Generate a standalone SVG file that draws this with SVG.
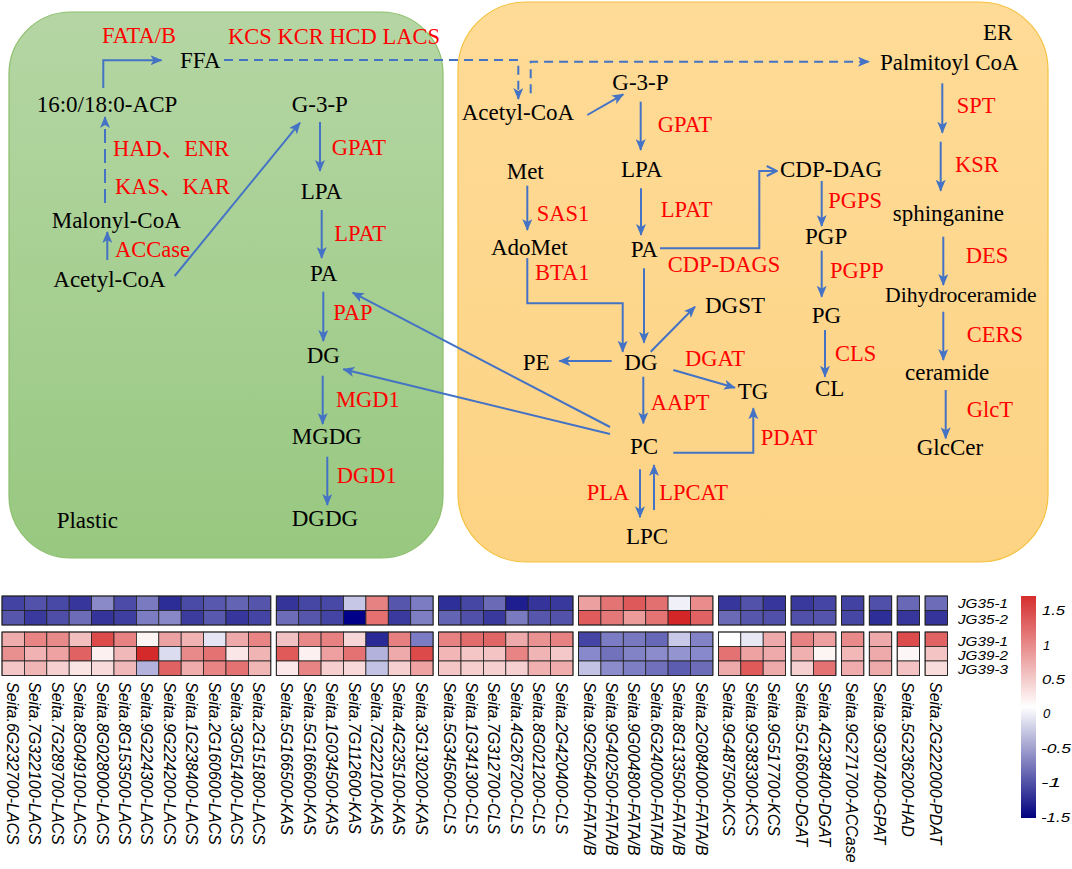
<svg xmlns="http://www.w3.org/2000/svg" width="1072" height="869" viewBox="0 0 1072 869">
<defs>
<linearGradient id="gG" x1="0" y1="0" x2="0" y2="1"><stop offset="0" stop-color="#b5d6a4"/><stop offset="1" stop-color="#98c880"/></linearGradient>
<linearGradient id="gO" x1="0" y1="0" x2="0" y2="1"><stop offset="0" stop-color="#fedb97"/><stop offset="1" stop-color="#fdd384"/></linearGradient>
<linearGradient id="gL" x1="0" y1="0" x2="0" y2="1"><stop offset="0" stop-color="#d52e2e"/><stop offset="0.5" stop-color="#ffffff"/><stop offset="1" stop-color="#00007e"/></linearGradient>
<marker id="ah" viewBox="0 0 12 10" refX="11" refY="5" markerWidth="12" markerHeight="10" markerUnits="userSpaceOnUse" orient="auto"><path d="M0,0 L12,5 L0,10 L3,5 z" fill="#4472c4"/></marker>
<marker id="ao" viewBox="0 0 12 12" refX="11" refY="6" markerWidth="12" markerHeight="12" markerUnits="userSpaceOnUse" orient="auto"><path d="M1,1 L11,6 L1,11" fill="none" stroke="#4472c4" stroke-width="2"/></marker>
</defs>
<style>
.n{font-family:'Liberation Serif','Tinos','Times New Roman','Nimbus Roman','DejaVu Serif',serif;font-size:23px;fill:#000}
.e{font-family:'Liberation Serif','Tinos','Times New Roman','Nimbus Roman','DejaVu Serif','Noto Sans CJK SC',serif;font-size:22.5px;fill:#ff0000}
.c path{fill:none;stroke:#4472c4;stroke-width:2}
.c .a{marker-end:url(#ah)}
.c .d{stroke-dasharray:9 6}
.hm rect{stroke:#222;stroke-width:0.8}
.hb{fill:none;stroke:#444;stroke-width:1.6}
.gl{font-family:'Liberation Sans',Arial,sans-serif;font-style:italic;font-size:16px;fill:#000}
.rl{font-family:'Liberation Sans',Arial,sans-serif;font-style:italic;font-size:13px;fill:#000}
</style>
<rect width="1072" height="869" fill="#fff"/>
<g id="plastid">
<rect x="9" y="12" width="434" height="546" rx="62" ry="62" fill="url(#gG)" stroke="#8cbf6c" stroke-width="1.2"/>
<text class="n" x="56.7" y="528.3">Plastic</text>
</g>
<g id="er">
<rect x="458" y="2" width="590" height="560" rx="68" ry="68" fill="url(#gO)" stroke="#f5c240" stroke-width="1.2"/>
<text class="n" x="983" y="40">ER</text>
</g>
<g id="n-fatab"><text class="e" x="102" y="43">FATA/B</text></g>
<g id="n-kcs"><text class="e" x="228" y="44">KCS KCR HCD LACS</text></g>
<g id="n-ffa"><text class="n" x="180" y="68.3">FFA</text></g>
<g id="n-acp"><text class="n" x="36.7" y="111.7">16:0/18:0-ACP</text></g>
<g id="n-g3p1"><text class="n" x="291.7" y="111.7">G-3-P</text></g>
<g id="n-haden"><text class="e" x="113" y="155.7">HAD、ENR</text></g>
<g id="n-gpat1"><text class="e" x="331.7" y="155">GPAT</text></g>
<g id="n-kaskar"><text class="e" x="115" y="194.3">KAS、KAR</text></g>
<g id="n-lpa1"><text class="n" x="300.7" y="199">LPA</text></g>
<g id="n-malonyl"><text class="n" x="51.7" y="227.7">Malonyl-CoA</text></g>
<g id="n-lpat1"><text class="e" x="334.3" y="240.7">LPAT</text></g>
<g id="n-accase"><text class="e" x="115" y="257.3">ACCase</text></g>
<g id="n-acetyl1"><text class="n" x="53.3" y="286.7">Acetyl-CoA</text></g>
<g id="n-pa1"><text class="n" x="310" y="281">PA</text></g>
<g id="n-pap"><text class="e" x="333.3" y="320">PAP</text></g>
<g id="n-dg1"><text class="n" x="306.7" y="363.3">DG</text></g>
<g id="n-mgd1"><text class="e" x="336" y="406.7">MGD1</text></g>
<g id="n-mgdg"><text class="n" x="291.7" y="444">MGDG</text></g>
<g id="n-dgd1"><text class="e" x="336.7" y="483.3">DGD1</text></g>
<g id="n-dgdg"><text class="n" x="291.7" y="526">DGDG</text></g>
<g id="n-acetyl2"><text class="n" x="461.7" y="120">Acetyl-CoA</text></g>
<g id="n-g3p2"><text class="n" x="612.3" y="90">G-3-P</text></g>
<g id="n-gpat2"><text class="e" x="657.7" y="131.7">GPAT</text></g>
<g id="n-met"><text class="n" x="506.7" y="179">Met</text></g>
<g id="n-lpa2"><text class="n" x="621" y="176.7">LPA</text></g>
<g id="n-cdpdag"><text class="n" x="780" y="176.7">CDP-DAG</text></g>
<g id="n-sas1"><text class="e" x="536.7" y="220.7">SAS1</text></g>
<g id="n-lpat2"><text class="e" x="660.7" y="216.7">LPAT</text></g>
<g id="n-adomet"><text class="n" x="491" y="255">AdoMet</text></g>
<g id="n-pa2"><text class="n" x="630.7" y="256.7">PA</text></g>
<g id="n-cdpdags"><text class="e" x="667.7" y="271.7">CDP-DAGS</text></g>
<g id="n-bta1"><text class="e" x="535" y="280">BTA1</text></g>
<g id="n-dgst"><text class="n" x="705" y="313.3">DGST</text></g>
<g id="n-pe"><text class="n" x="522.7" y="370">PE</text></g>
<g id="n-dg2"><text class="n" x="624.3" y="370">DG</text></g>
<g id="n-dgat"><text class="e" x="685" y="366">DGAT</text></g>
<g id="n-tg"><text class="n" x="737.7" y="399.3">TG</text></g>
<g id="n-aapt"><text class="e" x="650.7" y="410">AAPT</text></g>
<g id="n-pc"><text class="n" x="630" y="454">PC</text></g>
<g id="n-pdat"><text class="e" x="760.7" y="445">PDAT</text></g>
<g id="n-pla"><text class="e" x="586.7" y="500">PLA</text></g>
<g id="n-lpcat"><text class="e" x="659.3" y="500">LPCAT</text></g>
<g id="n-lpc"><text class="n" x="626" y="544">LPC</text></g>
<g id="n-pgps"><text class="e" x="828.3" y="208.3">PGPS</text></g>
<g id="n-pgp"><text class="n" x="805" y="244">PGP</text></g>
<g id="n-pgpp"><text class="e" x="830" y="277.7">PGPP</text></g>
<g id="n-pg"><text class="n" x="811.7" y="323">PG</text></g>
<g id="n-cls"><text class="e" x="835" y="361">CLS</text></g>
<g id="n-cl"><text class="n" x="815" y="396">CL</text></g>
<g id="n-palm"><text class="n" x="880" y="70">Palmitoyl CoA</text></g>
<g id="n-spt"><text class="e" x="956.7" y="113.3">SPT</text></g>
<g id="n-ksr"><text class="e" x="955" y="171.7">KSR</text></g>
<g id="n-sphing"><text class="n" x="892.7" y="220.7">sphinganine</text></g>
<g id="n-des"><text class="e" x="965.7" y="263.3">DES</text></g>
<g id="n-dihydro"><text class="n" x="885" y="301.7" style="font-size:21.7px">Dihydroceramide</text></g>
<g id="n-cers"><text class="e" x="966.7" y="342.3">CERS</text></g>
<g id="n-ceramide"><text class="n" x="905" y="380">ceramide</text></g>
<g id="n-glct"><text class="e" x="966.7" y="416.7">GlcT</text></g>
<g id="n-glccer"><text class="n" x="916.7" y="455">GlcCer</text></g>
<g id="connectors" class="c">
<path class="a" d="M103.3,88 V60.3 H161.5"/>
<path class="a" d="M105,203 V117" style="stroke-dasharray:14 6"/>
<path class="a" d="M107.3,260 V232"/>
<path class="a" d="M174.7,276 L300,122.7"/>
<path class="a" d="M320,122 V171"/>
<path class="a" d="M321.7,210 V258"/>
<path class="a" d="M323.3,291.7 V341"/>
<path class="a" d="M322.7,375.7 V424"/>
<path class="a" d="M327.3,456.7 V505"/>
<path class="a" d="M610,427 L352.7,292.7"/>
<path class="a" d="M610,434 L343.3,369.3"/>
<path class="a d" d="M224,60 H518.3 V99"/>
<path class="a d" d="M530.7,93.3 V61.7 H869"/>
<path class="a" d="M587.3,115 L623.3,94.3"/>
<path class="a" d="M640.7,101.7 V150"/>
<path class="a" d="M527.3,185.7 V230"/>
<path class="a" d="M641,188.3 V235"/>
<path d="M660,248.3 H759.3 V171 H776.7" style="marker-end:url(#ao)"/>
<path class="a" d="M527.3,258 V303.3 H622.7 V351.7"/>
<path class="a" d="M644,268.3 V342.7"/>
<path class="a" d="M611.7,361 H559.3"/>
<path class="a" d="M650.7,351.7 L695,306.7"/>
<path class="a" d="M673.3,370 L735,387.7"/>
<path class="a" d="M643.3,376.7 V423.3"/>
<path class="a" d="M673.3,452.7 H753.3 V408.3"/>
<path class="a" d="M640,469.3 V517.3"/>
<path class="a" d="M654,510 V465"/>
<path class="a" d="M821.7,181 V226"/>
<path class="a" d="M821.7,250.7 V296.7"/>
<path class="a" d="M825,330 V376.7"/>
<path class="a" d="M942.3,83.3 V132.7"/>
<path class="a" d="M940.7,141.7 V190.7"/>
<path class="a" d="M943.3,236.7 V285"/>
<path class="a" d="M943.3,311.7 V360"/>
<path class="a" d="M945.7,390 V438.3"/>
</g>
<g id="heatmap" class="hm">
<g id="row-jg35-1">
<rect x="2" y="596" width="22.4" height="14.5" fill="#4343a3"/><rect x="24.4" y="596" width="22.4" height="14.5" fill="#5252ab"/><rect x="46.8" y="596" width="22.4" height="14.5" fill="#4848a6"/><rect x="69.2" y="596" width="22.4" height="14.5" fill="#36369c"/><rect x="91.6" y="596" width="22.4" height="14.5" fill="#8a8ac9"/><rect x="114" y="596" width="22.4" height="14.5" fill="#4c4ca8"/><rect x="136.4" y="596" width="22.4" height="14.5" fill="#7a7ac1"/><rect x="158.8" y="596" width="22.4" height="14.5" fill="#2d2d98"/><rect x="181.2" y="596" width="22.4" height="14.5" fill="#4a4aa7"/><rect x="203.6" y="596" width="22.4" height="14.5" fill="#5858ae"/><rect x="226" y="596" width="22.4" height="14.5" fill="#6464b4"/><rect x="248.4" y="596" width="22.4" height="14.5" fill="#5555ac"/>
<rect x="276.3" y="596" width="22.4" height="14.5" fill="#34349b"/><rect x="298.7" y="596" width="22.4" height="14.5" fill="#4646a5"/><rect x="321.1" y="596" width="22.4" height="14.5" fill="#4848a6"/><rect x="343.5" y="596" width="22.4" height="14.5" fill="#c6c6e6"/><rect x="365.9" y="596" width="22.4" height="14.5" fill="#e68282"/><rect x="388.3" y="596" width="22.4" height="14.5" fill="#5656ad"/><rect x="410.7" y="596" width="22.4" height="14.5" fill="#7c7cc2"/>
<rect x="438.6" y="596" width="22.4" height="14.5" fill="#2f2f99"/><rect x="461" y="596" width="22.4" height="14.5" fill="#4646a5"/><rect x="483.4" y="596" width="22.4" height="14.5" fill="#6a6ab7"/><rect x="505.8" y="596" width="22.4" height="14.5" fill="#1e1e91"/><rect x="528.2" y="596" width="22.4" height="14.5" fill="#34349b"/><rect x="550.6" y="596" width="22.4" height="14.5" fill="#38389d"/>
<rect x="578.5" y="596" width="22.4" height="14.5" fill="#eca0a0"/><rect x="600.9" y="596" width="22.4" height="14.5" fill="#e47474"/><rect x="623.3" y="596" width="22.4" height="14.5" fill="#de5a5a"/><rect x="645.7" y="596" width="22.4" height="14.5" fill="#e27070"/><rect x="668.1" y="596" width="22.4" height="14.5" fill="#f0f0f8"/><rect x="690.5" y="596" width="22.4" height="14.5" fill="#ea8c8c"/>
<rect x="718.4" y="596" width="22.4" height="14.5" fill="#36369c"/><rect x="740.8" y="596" width="22.4" height="14.5" fill="#5252ab"/><rect x="763.2" y="596" width="22.4" height="14.5" fill="#36369c"/>
<rect x="791.1" y="596" width="22.4" height="14.5" fill="#38389d"/><rect x="813.5" y="596" width="22.4" height="14.5" fill="#4545a5"/>
<rect x="841.4" y="596" width="22.4" height="14.5" fill="#4242a3"/><rect x="869.3" y="596" width="22.4" height="14.5" fill="#5050aa"/><rect x="897.2" y="596" width="22.4" height="14.5" fill="#6868b6"/><rect x="925.1" y="596" width="22.4" height="14.5" fill="#6c6cb8"/>
</g>
<g id="row-jg35-2">
<rect x="2" y="610.5" width="22.4" height="14.5" fill="#5656ad"/><rect x="24.4" y="610.5" width="22.4" height="14.5" fill="#3a3a9e"/><rect x="46.8" y="610.5" width="22.4" height="14.5" fill="#4e4ea9"/><rect x="69.2" y="610.5" width="22.4" height="14.5" fill="#6c6cb8"/><rect x="91.6" y="610.5" width="22.4" height="14.5" fill="#34349b"/><rect x="114" y="610.5" width="22.4" height="14.5" fill="#3e3ea0"/><rect x="136.4" y="610.5" width="22.4" height="14.5" fill="#7c7cc2"/><rect x="158.8" y="610.5" width="22.4" height="14.5" fill="#8888c8"/><rect x="181.2" y="610.5" width="22.4" height="14.5" fill="#3c3c9f"/><rect x="203.6" y="610.5" width="22.4" height="14.5" fill="#5858ae"/><rect x="226" y="610.5" width="22.4" height="14.5" fill="#36369c"/><rect x="248.4" y="610.5" width="22.4" height="14.5" fill="#4444a4"/>
<rect x="276.3" y="610.5" width="22.4" height="14.5" fill="#6c6cb8"/><rect x="298.7" y="610.5" width="22.4" height="14.5" fill="#5656ad"/><rect x="321.1" y="610.5" width="22.4" height="14.5" fill="#4444a4"/><rect x="343.5" y="610.5" width="22.4" height="14.5" fill="#000088"/><rect x="365.9" y="610.5" width="22.4" height="14.5" fill="#e67070"/><rect x="388.3" y="610.5" width="22.4" height="14.5" fill="#3a3a9e"/><rect x="410.7" y="610.5" width="22.4" height="14.5" fill="#7e7ec3"/>
<rect x="438.6" y="610.5" width="22.4" height="14.5" fill="#6464b4"/><rect x="461" y="610.5" width="22.4" height="14.5" fill="#5050aa"/><rect x="483.4" y="610.5" width="22.4" height="14.5" fill="#38389d"/><rect x="505.8" y="610.5" width="22.4" height="14.5" fill="#7a7ac1"/><rect x="528.2" y="610.5" width="22.4" height="14.5" fill="#5656ad"/><rect x="550.6" y="610.5" width="22.4" height="14.5" fill="#5252ab"/>
<rect x="578.5" y="610.5" width="22.4" height="14.5" fill="#e05c5c"/><rect x="600.9" y="610.5" width="22.4" height="14.5" fill="#e47878"/><rect x="623.3" y="610.5" width="22.4" height="14.5" fill="#ec9a9a"/><rect x="645.7" y="610.5" width="22.4" height="14.5" fill="#e47474"/><rect x="668.1" y="610.5" width="22.4" height="14.5" fill="#d42626"/><rect x="690.5" y="610.5" width="22.4" height="14.5" fill="#e06262"/>
<rect x="718.4" y="610.5" width="22.4" height="14.5" fill="#6a6ab7"/><rect x="740.8" y="610.5" width="22.4" height="14.5" fill="#5656ad"/><rect x="763.2" y="610.5" width="22.4" height="14.5" fill="#5050aa"/>
<rect x="791.1" y="610.5" width="22.4" height="14.5" fill="#5050aa"/><rect x="813.5" y="610.5" width="22.4" height="14.5" fill="#5454ac"/>
<rect x="841.4" y="610.5" width="22.4" height="14.5" fill="#4646a5"/><rect x="869.3" y="610.5" width="22.4" height="14.5" fill="#2e2e99"/><rect x="897.2" y="610.5" width="22.4" height="14.5" fill="#36369c"/><rect x="925.1" y="610.5" width="22.4" height="14.5" fill="#34349b"/>
</g>
<g id="row-jg39-1">
<rect x="2" y="632" width="22.4" height="14.5" fill="#eeacac"/><rect x="24.4" y="632" width="22.4" height="14.5" fill="#e88484"/><rect x="46.8" y="632" width="22.4" height="14.5" fill="#e88a8a"/><rect x="69.2" y="632" width="22.4" height="14.5" fill="#f2bebe"/><rect x="91.6" y="632" width="22.4" height="14.5" fill="#dc4a4a"/><rect x="114" y="632" width="22.4" height="14.5" fill="#e88282"/><rect x="136.4" y="632" width="22.4" height="14.5" fill="#fdf4f4"/><rect x="158.8" y="632" width="22.4" height="14.5" fill="#eca2a2"/><rect x="181.2" y="632" width="22.4" height="14.5" fill="#f0b2b2"/><rect x="203.6" y="632" width="22.4" height="14.5" fill="#e4e4f4"/><rect x="226" y="632" width="22.4" height="14.5" fill="#eeaaaa"/><rect x="248.4" y="632" width="22.4" height="14.5" fill="#e88484"/>
<rect x="276.3" y="632" width="22.4" height="14.5" fill="#f2c2c2"/><rect x="298.7" y="632" width="22.4" height="14.5" fill="#e88888"/><rect x="321.1" y="632" width="22.4" height="14.5" fill="#e88282"/><rect x="343.5" y="632" width="22.4" height="14.5" fill="#f6d6d6"/><rect x="365.9" y="632" width="22.4" height="14.5" fill="#2a2a97"/><rect x="388.3" y="632" width="22.4" height="14.5" fill="#e68080"/><rect x="410.7" y="632" width="22.4" height="14.5" fill="#7c7cc4"/>
<rect x="438.6" y="632" width="22.4" height="14.5" fill="#e68282"/><rect x="461" y="632" width="22.4" height="14.5" fill="#e26c6c"/><rect x="483.4" y="632" width="22.4" height="14.5" fill="#e06666"/><rect x="505.8" y="632" width="22.4" height="14.5" fill="#eeaaaa"/><rect x="528.2" y="632" width="22.4" height="14.5" fill="#ea9292"/><rect x="550.6" y="632" width="22.4" height="14.5" fill="#e88282"/>
<rect x="578.5" y="632" width="22.4" height="14.5" fill="#4444a4"/><rect x="600.9" y="632" width="22.4" height="14.5" fill="#7c7cc4"/><rect x="623.3" y="632" width="22.4" height="14.5" fill="#7878c1"/><rect x="645.7" y="632" width="22.4" height="14.5" fill="#6868b8"/><rect x="668.1" y="632" width="22.4" height="14.5" fill="#c8c8e8"/><rect x="690.5" y="632" width="22.4" height="14.5" fill="#8282c6"/>
<rect x="718.4" y="632" width="22.4" height="14.5" fill="#fefefe"/><rect x="740.8" y="632" width="22.4" height="14.5" fill="#e8e8f4"/><rect x="763.2" y="632" width="22.4" height="14.5" fill="#eeaaaa"/>
<rect x="791.1" y="632" width="22.4" height="14.5" fill="#e68282"/><rect x="813.5" y="632" width="22.4" height="14.5" fill="#eea0a0"/>
<rect x="841.4" y="632" width="22.4" height="14.5" fill="#e88a8a"/><rect x="869.3" y="632" width="22.4" height="14.5" fill="#eeaaaa"/><rect x="897.2" y="632" width="22.4" height="14.5" fill="#dc4c4c"/><rect x="925.1" y="632" width="22.4" height="14.5" fill="#e06262"/>
</g>
<g id="row-jg39-2">
<rect x="2" y="646.5" width="22.4" height="14.5" fill="#e89090"/><rect x="24.4" y="646.5" width="22.4" height="14.5" fill="#f0b2b2"/><rect x="46.8" y="646.5" width="22.4" height="14.5" fill="#eea2a2"/><rect x="69.2" y="646.5" width="22.4" height="14.5" fill="#e06262"/><rect x="91.6" y="646.5" width="22.4" height="14.5" fill="#fdf0f0"/><rect x="114" y="646.5" width="22.4" height="14.5" fill="#f0b8b8"/><rect x="136.4" y="646.5" width="22.4" height="14.5" fill="#d42a2a"/><rect x="158.8" y="646.5" width="22.4" height="14.5" fill="#dcdcf0"/><rect x="181.2" y="646.5" width="22.4" height="14.5" fill="#e88a8a"/><rect x="203.6" y="646.5" width="22.4" height="14.5" fill="#e47272"/><rect x="226" y="646.5" width="22.4" height="14.5" fill="#fae6e6"/><rect x="248.4" y="646.5" width="22.4" height="14.5" fill="#f0b4b4"/>
<rect x="276.3" y="646.5" width="22.4" height="14.5" fill="#e05a5a"/><rect x="298.7" y="646.5" width="22.4" height="14.5" fill="#fdf0f0"/><rect x="321.1" y="646.5" width="22.4" height="14.5" fill="#eea0a0"/><rect x="343.5" y="646.5" width="22.4" height="14.5" fill="#e47272"/><rect x="365.9" y="646.5" width="22.4" height="14.5" fill="#b2b2dc"/><rect x="388.3" y="646.5" width="22.4" height="14.5" fill="#eeaaaa"/><rect x="410.7" y="646.5" width="22.4" height="14.5" fill="#dc4a4a"/>
<rect x="438.6" y="646.5" width="22.4" height="14.5" fill="#f2b6b6"/><rect x="461" y="646.5" width="22.4" height="14.5" fill="#f4c6c6"/><rect x="483.4" y="646.5" width="22.4" height="14.5" fill="#f4c4c4"/><rect x="505.8" y="646.5" width="22.4" height="14.5" fill="#e88484"/><rect x="528.2" y="646.5" width="22.4" height="14.5" fill="#f0b4b4"/><rect x="550.6" y="646.5" width="22.4" height="14.5" fill="#f4c8c8"/>
<rect x="578.5" y="646.5" width="22.4" height="14.5" fill="#8888cc"/><rect x="600.9" y="646.5" width="22.4" height="14.5" fill="#7272bc"/><rect x="623.3" y="646.5" width="22.4" height="14.5" fill="#8282c6"/><rect x="645.7" y="646.5" width="22.4" height="14.5" fill="#8c8ccc"/><rect x="668.1" y="646.5" width="22.4" height="14.5" fill="#9494d0"/><rect x="690.5" y="646.5" width="22.4" height="14.5" fill="#8888cc"/>
<rect x="718.4" y="646.5" width="22.4" height="14.5" fill="#e47272"/><rect x="740.8" y="646.5" width="22.4" height="14.5" fill="#eea2a2"/><rect x="763.2" y="646.5" width="22.4" height="14.5" fill="#eeaaaa"/>
<rect x="791.1" y="646.5" width="22.4" height="14.5" fill="#f0b0b0"/><rect x="813.5" y="646.5" width="22.4" height="14.5" fill="#fdf4f4"/>
<rect x="841.4" y="646.5" width="22.4" height="14.5" fill="#f2b8b8"/><rect x="869.3" y="646.5" width="22.4" height="14.5" fill="#eeaaaa"/><rect x="897.2" y="646.5" width="22.4" height="14.5" fill="#fdf6f6"/><rect x="925.1" y="646.5" width="22.4" height="14.5" fill="#f4c4c4"/>
</g>
<g id="row-jg39-3">
<rect x="2" y="661" width="22.4" height="14.5" fill="#f4c6c6"/><rect x="24.4" y="661" width="22.4" height="14.5" fill="#f0b6b6"/><rect x="46.8" y="661" width="22.4" height="14.5" fill="#f6d0d0"/><rect x="69.2" y="661" width="22.4" height="14.5" fill="#fbe4e4"/><rect x="91.6" y="661" width="22.4" height="14.5" fill="#f8dada"/><rect x="114" y="661" width="22.4" height="14.5" fill="#f0b8b8"/><rect x="136.4" y="661" width="22.4" height="14.5" fill="#b2b2dc"/><rect x="158.8" y="661" width="22.4" height="14.5" fill="#e06262"/><rect x="181.2" y="661" width="22.4" height="14.5" fill="#f0acac"/><rect x="203.6" y="661" width="22.4" height="14.5" fill="#e88484"/><rect x="226" y="661" width="22.4" height="14.5" fill="#e47272"/><rect x="248.4" y="661" width="22.4" height="14.5" fill="#f0b6b6"/>
<rect x="276.3" y="661" width="22.4" height="14.5" fill="#fce8e8"/><rect x="298.7" y="661" width="22.4" height="14.5" fill="#e88484"/><rect x="321.1" y="661" width="22.4" height="14.5" fill="#f6cece"/><rect x="343.5" y="661" width="22.4" height="14.5" fill="#f8d8d8"/><rect x="365.9" y="661" width="22.4" height="14.5" fill="#c2c2e4"/><rect x="388.3" y="661" width="22.4" height="14.5" fill="#f6d0d0"/><rect x="410.7" y="661" width="22.4" height="14.5" fill="#eea2a2"/>
<rect x="438.6" y="661" width="22.4" height="14.5" fill="#f4c6c6"/><rect x="461" y="661" width="22.4" height="14.5" fill="#f6cece"/><rect x="483.4" y="661" width="22.4" height="14.5" fill="#f6d0d0"/><rect x="505.8" y="661" width="22.4" height="14.5" fill="#f6d0d0"/><rect x="528.2" y="661" width="22.4" height="14.5" fill="#f0b0b0"/><rect x="550.6" y="661" width="22.4" height="14.5" fill="#f0acac"/>
<rect x="578.5" y="661" width="22.4" height="14.5" fill="#c2c2e4"/><rect x="600.9" y="661" width="22.4" height="14.5" fill="#8c8ccc"/><rect x="623.3" y="661" width="22.4" height="14.5" fill="#7e7ec4"/><rect x="645.7" y="661" width="22.4" height="14.5" fill="#7070bc"/><rect x="668.1" y="661" width="22.4" height="14.5" fill="#5c5cb0"/><rect x="690.5" y="661" width="22.4" height="14.5" fill="#6c6cb8"/>
<rect x="718.4" y="661" width="22.4" height="14.5" fill="#eeaaaa"/><rect x="740.8" y="661" width="22.4" height="14.5" fill="#e05a5a"/><rect x="763.2" y="661" width="22.4" height="14.5" fill="#eeaaaa"/>
<rect x="791.1" y="661" width="22.4" height="14.5" fill="#f6d0d0"/><rect x="813.5" y="661" width="22.4" height="14.5" fill="#e47272"/>
<rect x="841.4" y="661" width="22.4" height="14.5" fill="#f0acac"/><rect x="869.3" y="661" width="22.4" height="14.5" fill="#eeaaaa"/><rect x="897.2" y="661" width="22.4" height="14.5" fill="#f4c2c2"/><rect x="925.1" y="661" width="22.4" height="14.5" fill="#f8dcdc"/>
</g>
<g id="block-borders">
<rect class="hb" x="2" y="596" width="268.8" height="29"/><rect class="hb" x="276.3" y="596" width="156.8" height="29"/><rect class="hb" x="438.6" y="596" width="134.4" height="29"/><rect class="hb" x="578.5" y="596" width="134.4" height="29"/><rect class="hb" x="718.4" y="596" width="67.2" height="29"/><rect class="hb" x="791.1" y="596" width="44.8" height="29"/><rect class="hb" x="841.4" y="596" width="22.4" height="29"/><rect class="hb" x="869.3" y="596" width="22.4" height="29"/><rect class="hb" x="897.2" y="596" width="22.4" height="29"/><rect class="hb" x="925.1" y="596" width="22.4" height="29"/>
<rect class="hb" x="2" y="632" width="268.8" height="43.5"/><rect class="hb" x="276.3" y="632" width="156.8" height="43.5"/><rect class="hb" x="438.6" y="632" width="134.4" height="43.5"/><rect class="hb" x="578.5" y="632" width="134.4" height="43.5"/><rect class="hb" x="718.4" y="632" width="67.2" height="43.5"/><rect class="hb" x="791.1" y="632" width="44.8" height="43.5"/><rect class="hb" x="841.4" y="632" width="22.4" height="43.5"/><rect class="hb" x="869.3" y="632" width="22.4" height="43.5"/><rect class="hb" x="897.2" y="632" width="22.4" height="43.5"/><rect class="hb" x="925.1" y="632" width="22.4" height="43.5"/>
</g>
</g>
<g id="gene-labels">
<text class="gl" transform="translate(7,682) rotate(90)">Seita.6G232700-LACS</text>
<text class="gl" transform="translate(29.4,682) rotate(90)">Seita.7G322100-LACS</text>
<text class="gl" transform="translate(51.8,682) rotate(90)">Seita.7G289700-LACS</text>
<text class="gl" transform="translate(74.2,682) rotate(90)">Seita.8G049100-LACS</text>
<text class="gl" transform="translate(96.6,682) rotate(90)">Seita.8G028000-LACS</text>
<text class="gl" transform="translate(119,682) rotate(90)">Seita.8G153500-LACS</text>
<text class="gl" transform="translate(141.4,682) rotate(90)">Seita.9G224300-LACS</text>
<text class="gl" transform="translate(163.8,682) rotate(90)">Seita.9G224200-LACS</text>
<text class="gl" transform="translate(186.2,682) rotate(90)">Seita.1G238400-LACS</text>
<text class="gl" transform="translate(208.6,682) rotate(90)">Seita.2G160600-LACS</text>
<text class="gl" transform="translate(231,682) rotate(90)">Seita.3G051400-LACS</text>
<text class="gl" transform="translate(253.4,682) rotate(90)">Seita.2G151800-LACS</text>
<text class="gl" transform="translate(281.3,682) rotate(90)">Seita.5G166500-KAS</text>
<text class="gl" transform="translate(303.7,682) rotate(90)">Seita.5G166600-KAS</text>
<text class="gl" transform="translate(326.1,682) rotate(90)">Seita.1G034500-KAS</text>
<text class="gl" transform="translate(348.5,682) rotate(90)">Seita.7G112600-KAS</text>
<text class="gl" transform="translate(370.9,682) rotate(90)">Seita.7G222100-KAS</text>
<text class="gl" transform="translate(393.3,682) rotate(90)">Seita.4G235100-KAS</text>
<text class="gl" transform="translate(415.7,682) rotate(90)">Seita.3G130200-KAS</text>
<text class="gl" transform="translate(443.6,682) rotate(90)">Seita.5G345600-CLS</text>
<text class="gl" transform="translate(466,682) rotate(90)">Seita.1G341300-CLS</text>
<text class="gl" transform="translate(488.4,682) rotate(90)">Seita.7G312700-CLS</text>
<text class="gl" transform="translate(510.8,682) rotate(90)">Seita.4G267200-CLS</text>
<text class="gl" transform="translate(533.2,682) rotate(90)">Seita.8G021200-CLS</text>
<text class="gl" transform="translate(555.6,682) rotate(90)">Seita.2G420400-CLS</text>
<text class="gl" transform="translate(583.5,682) rotate(90)">Seita.9G205400-FATA/B</text>
<text class="gl" transform="translate(605.9,682) rotate(90)">Seita.9G402500-FATA/B</text>
<text class="gl" transform="translate(628.3,682) rotate(90)">Seita.9G004800-FATA/B</text>
<text class="gl" transform="translate(650.7,682) rotate(90)">Seita.6G240000-FATA/B</text>
<text class="gl" transform="translate(673.1,682) rotate(90)">Seita.8G133500-FATA/B</text>
<text class="gl" transform="translate(695.5,682) rotate(90)">Seita.2G084000-FATA/B</text>
<text class="gl" transform="translate(723.4,682) rotate(90)">Seita.9G487500-KCS</text>
<text class="gl" transform="translate(745.8,682) rotate(90)">Seita.9G383300-KCS</text>
<text class="gl" transform="translate(768.2,682) rotate(90)">Seita.9G517700-KCS</text>
<text class="gl" transform="translate(796.1,682) rotate(90)">Seita.5G166000-DGAT</text>
<text class="gl" transform="translate(818.5,682) rotate(90)">Seita.4G238400-DGAT</text>
<text class="gl" transform="translate(846.4,682) rotate(90)">Seita.9G271700-ACCase</text>
<text class="gl" transform="translate(874.3,682) rotate(90)">Seita.9G307400-GPAT</text>
<text class="gl" transform="translate(902.2,682) rotate(90)">Seita.5G236200-HAD</text>
<text class="gl" transform="translate(930.1,682) rotate(90)">Seita.2G222000-PDAT</text>
</g>
<g id="row-labels">
<text class="rl" x="958" y="607.7" textLength="50" lengthAdjust="spacingAndGlyphs">JG35-1</text>
<text class="rl" x="958" y="623.5" textLength="50" lengthAdjust="spacingAndGlyphs">JG35-2</text>
<text class="rl" x="958" y="645.5" textLength="50" lengthAdjust="spacingAndGlyphs">JG39-1</text>
<text class="rl" x="958" y="660" textLength="50" lengthAdjust="spacingAndGlyphs">JG39-2</text>
<text class="rl" x="958" y="674.3" textLength="50" lengthAdjust="spacingAndGlyphs">JG39-3</text>
</g>
<g id="legend">
<rect x="1021" y="596" width="15" height="222" fill="url(#gL)"/>
<text class="rl" x="1042" y="615" textLength="23" lengthAdjust="spacingAndGlyphs">1.5</text>
<text class="rl" x="1043" y="650">1</text>
<text class="rl" x="1042" y="684" textLength="23" lengthAdjust="spacingAndGlyphs">0.5</text>
<text class="rl" x="1043" y="718">0</text>
<text class="rl" x="1041" y="753" textLength="30" lengthAdjust="spacingAndGlyphs">-0.5</text>
<text class="rl" x="1041" y="787" textLength="20" lengthAdjust="spacingAndGlyphs">-1</text>
<text class="rl" x="1041" y="822" textLength="29" lengthAdjust="spacingAndGlyphs">-1.5</text>
</g>
</svg>
